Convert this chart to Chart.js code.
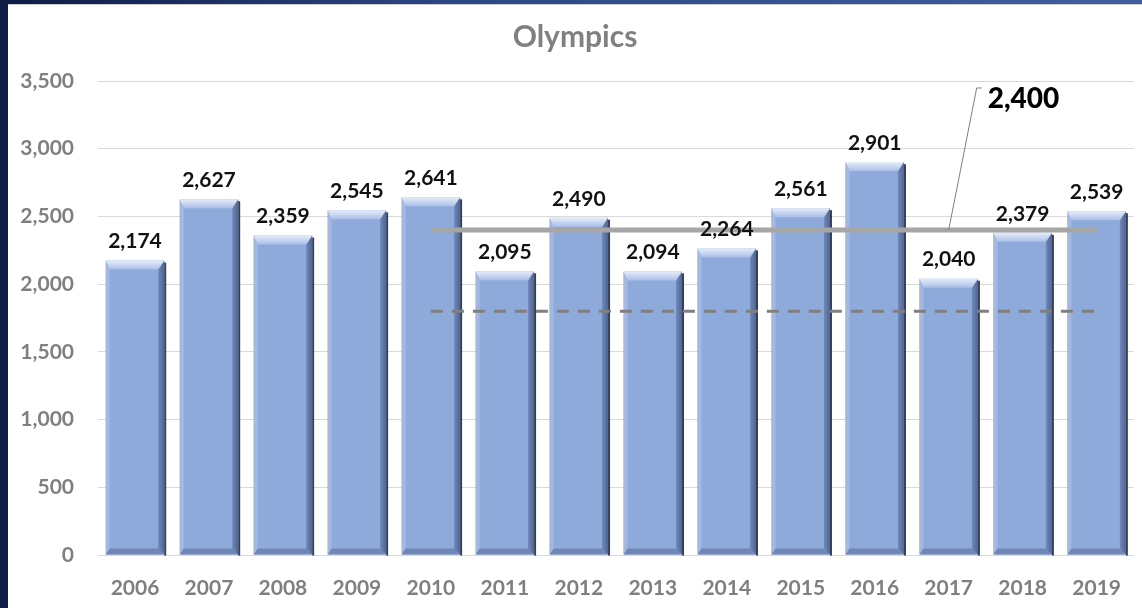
<!DOCTYPE html>
<html>
<head>
<meta charset="utf-8">
<script src="https://cdn.jsdelivr.net/npm/chart.js@4.4.1/dist/chart.umd.min.js"></script>
<style>
  html, body { margin: 0; padding: 0; background: #ffffff; }
  body { width: 1142px; height: 608px; position: relative; overflow: hidden; }
  #leftBar { position: absolute; left: 0; top: 0; width: 8px; height: 608px; background: #0d1b45; }
  #topBar { position: absolute; left: 0; top: 0; width: 1142px; height: 4px;
            background: linear-gradient(to right, #0d1b45, #2c4785 40%, #3f5f9f); }
  #topLine { position: absolute; left: 8px; top: 4px; width: 1134px; height: 1px; background: #cfcfcf; }
  #chart { position: absolute; left: 8px; top: 4px; }
</style>
</head>
<body>
<div id="leftBar"></div>
<div id="topBar"></div>
<div id="topLine"></div>
<canvas id="chart" width="1134" height="604"></canvas>
<script>
const years = ["2006", "2007", "2008", "2009", "2010", "2011", "2012", "2013", "2014", "2015", "2016", "2017", "2018", "2019"];
const visitors = [2174, 2627, 2359, 2545, 2641, 2095, 2490, 2094, 2264, 2561, 2901, 2040, 2379, 2539];
const targetLine = [null, null, null, null, 2400, 2400, 2400, 2400, 2400, 2400, 2400, 2400, 2400, 2400];
const floorLine = [null, null, null, null, 1800, 1800, 1800, 1800, 1800, 1800, 1800, 1800, 1800, 1800];
const yTicks = [0, 500, 1000, 1500, 2000, 2500, 3000, 3500];
const calloutText = "2,400";
const calloutIndex = 11; // the 2017 point of the 2,400 line

const FONT = "Lato, 'Open Sans', sans-serif";
const fmt = v => v.toLocaleString("en-US");

// draws the bevelled look of each bar on top of the plain fill
const bevelPlugin = {
    id: "bevel",
    afterDatasetDraw(chart, args) {
        if (args.index !== 0) return;
        const ctx = chart.ctx;
        args.meta.data.forEach(bar => {
            const { x, y, width, base } = bar.getProps(["x", "y", "width", "base"], true);
            const l = x - width / 2, r = x + width / 2, t = y, b = base;
            const bt = 9, bs = 6;
            ctx.save();
            // shadow on the right
            ctx.fillStyle = "rgba(20,28,50,0.85)";
            ctx.fillRect(r, t + 2, 2, b - t - 1);
            // left bevel
            ctx.fillStyle = "#a3b8e3";
            ctx.beginPath();
            ctx.moveTo(l, t); ctx.lineTo(l + 4, t + bt); ctx.lineTo(l + 4, b - bs); ctx.lineTo(l, b);
            ctx.closePath(); ctx.fill();
            // right bevel
            const gr = ctx.createLinearGradient(r - bs, 0, r, 0);
            gr.addColorStop(0, "#7189bb");
            gr.addColorStop(1, "#4f6592");
            ctx.fillStyle = gr;
            ctx.beginPath();
            ctx.moveTo(r, t); ctx.lineTo(r - bs, t + bt); ctx.lineTo(r - bs, b - bs); ctx.lineTo(r, b);
            ctx.closePath(); ctx.fill();
            // bottom bevel
            ctx.fillStyle = "#7087b6";
            ctx.beginPath();
            ctx.moveTo(l, b); ctx.lineTo(l + 4, b - bs); ctx.lineTo(r - bs, b - bs); ctx.lineTo(r, b);
            ctx.closePath(); ctx.fill();
            // top bevel
            const gt = ctx.createLinearGradient(0, t, 0, t + bt);
            gt.addColorStop(0, "#e6edf9");
            gt.addColorStop(1, "#a9bee8");
            ctx.fillStyle = gt;
            ctx.beginPath();
            ctx.moveTo(l, t); ctx.lineTo(r, t); ctx.lineTo(r - bs, t + bt); ctx.lineTo(l + 4, t + bt);
            ctx.closePath(); ctx.fill();
            ctx.restore();
        });
    }
};

// value labels above the bars and the 2,400 callout
const labelPlugin = {
    id: "valueLabels",
    afterDatasetsDraw(chart) {
        const ctx = chart.ctx;
        ctx.save();
        ctx.fillStyle = "#111111";
        ctx.font = "bold 21px " + FONT;
        ctx.textAlign = "center";
        ctx.textBaseline = "middle";
        chart.getDatasetMeta(0).data.forEach((bar, i) => {
            ctx.fillText(fmt(visitors[i]), bar.x, bar.y - 19);
        });

        const pt = chart.getDatasetMeta(1).data[calloutIndex];
        ctx.strokeStyle = "#7f7f7f";
        ctx.lineWidth = 1;
        ctx.beginPath();
        ctx.moveTo(pt.x, pt.y);
        ctx.lineTo(pt.x + 28, pt.y - 142);
        ctx.lineTo(pt.x + 33, pt.y - 142);
        ctx.stroke();
        ctx.font = "900 28px " + FONT;
        ctx.textAlign = "left";
        ctx.fillStyle = "#000000";
        ctx.fillText(calloutText, pt.x + 39, pt.y - 131);
        ctx.restore();
    }
};

new Chart(document.getElementById("chart"), {
    type: "bar",
    data: {
        labels: years,
        datasets: [
            {
                type: "bar",
                label: "Olympics",
                data: visitors,
                backgroundColor: "#8eaadb",
                borderWidth: 0,
                categoryPercentage: 1.0,
                barPercentage: 0.79,
                order: 2
            },
            {
                type: "line",
                label: "2,400",
                data: targetLine,
                borderColor: "#a6a6a6",
                borderWidth: 5,
                pointRadius: 0,
                tension: 0,
                fill: false,
                order: 1
            },
            {
                type: "line",
                label: "1,800",
                data: floorLine,
                borderColor: "#7f7f7f",
                borderWidth: 3,
                borderDash: [12, 9],
                pointRadius: 0,
                tension: 0,
                fill: false,
                order: 0
            }
        ]
    },
    options: {
        responsive: false,
        animation: false,
        devicePixelRatio: 1,
        layout: { padding: 0 },
        plugins: {
            legend: { display: false },
            tooltip: { enabled: false },
            title: {
                display: true,
                text: "Olympics",
                color: "#808080",
                font: { family: FONT, size: 30, weight: "bold" },
                padding: { top: 15, bottom: 26 }
            }
        },
        scales: {
            x: {
                offset: true,
                afterFit(scale) { scale.height = 53; },
                grid: { display: false, drawTicks: false },
                border: { display: false },
                ticks: {
                    color: "#7f7f7f",
                    font: { family: FONT, size: 21, weight: "bold" },
                    padding: 21,
                    maxRotation: 0
                }
            },
            y: {
                min: 0,
                max: 3500,
                afterFit(scale) { scale.width = 90; },
                afterBuildTicks(scale) { scale.ticks = yTicks.map(v => ({ value: v })); },
                grid: { color: "#d9d9d9", lineWidth: 1, drawTicks: false },
                border: { display: false },
                ticks: {
                    color: "#7f7f7f",
                    font: { family: FONT, size: 21, weight: "bold" },
                    padding: 24,
                    callback: v => fmt(v)
                }
            }
        }
    },
    plugins: [bevelPlugin, labelPlugin]
});
</script>
</body>
</html>
